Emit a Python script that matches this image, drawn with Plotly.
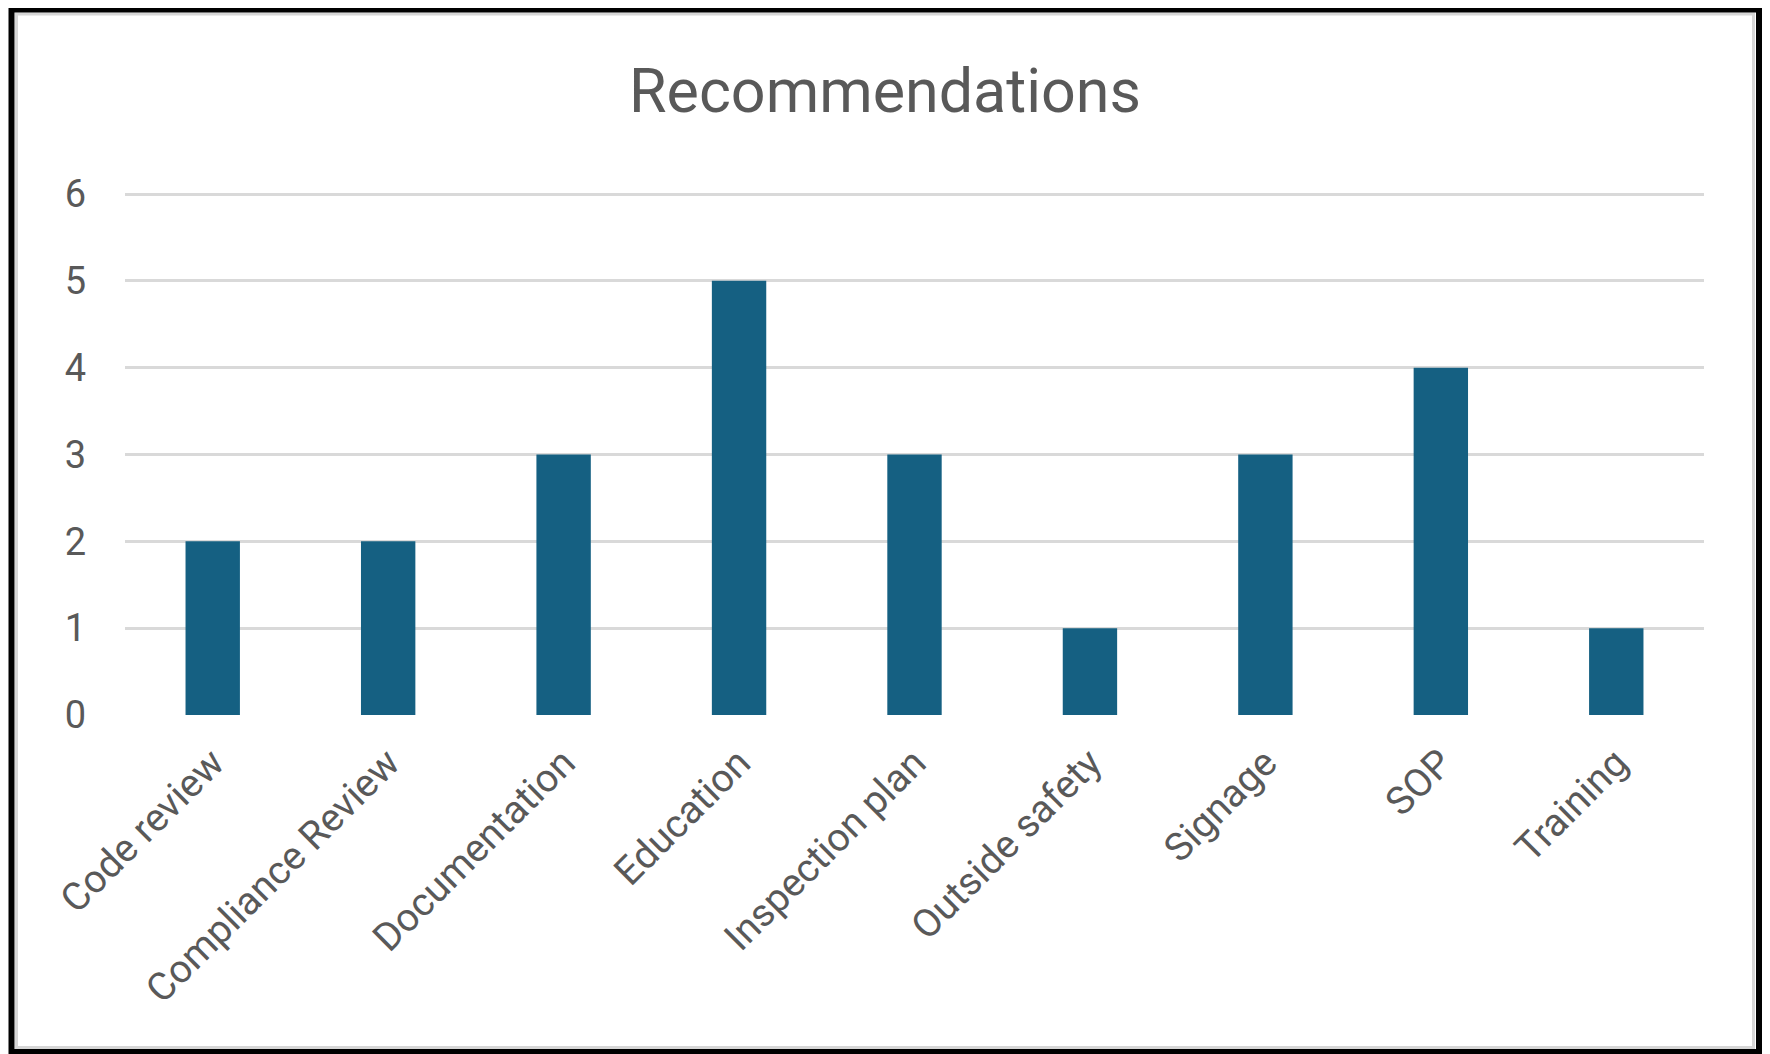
import plotly.graph_objects as go

categories = ["Code review", "Compliance Review", "Documentation", "Education",
              "Inspection plan", "Outside safety", "Signage", "SOP", "Training"]
counts = [2, 2, 3, 5, 3, 1, 3, 4, 1]
y_ticks = [0, 1, 2, 3, 4, 5, 6]

# the page body adds an 8px offset, so positions below are in figure pixels
OFF = 8
W, H = 1770, 1054
L, R, T, B = 125 - OFF, 66 + OFF, 193 - OFF, 339 + OFF
PW, PH = W - L - R, H - T - B


def px(x):
    return (x - OFF - L) / PW


def py(y):
    return (H - B - (y - OFF)) / PH


fig = go.Figure(go.Bar(
    x=categories, y=counts,
    marker=dict(color="#156082", line=dict(width=0)),
    width=0.31,
))

shapes = [
    dict(type="rect", xref="paper", yref="paper",
         x0=px(16.5), x1=px(1753.5), y0=py(14), y1=py(1047.5),
         line=dict(color="#D6D6D6", width=3), fillcolor="rgba(0,0,0,0)", layer="above"),
    dict(type="rect", xref="paper", yref="paper",
         x0=px(11.5), x1=px(1759), y0=py(9.5), y1=py(1052),
         line=dict(color="#000000", width=6), fillcolor="rgba(0,0,0,0)", layer="above"),
]

fig.update_layout(
    width=W, height=H,
    margin=dict(l=L, r=R, t=T, b=B, pad=0),
    paper_bgcolor="white", plot_bgcolor="white",
    font=dict(family="Roboto", color="#595959"),
    title=dict(text="Recommendations", x=(885 - OFF) / W, xanchor="center",
               y=1 - (91 - OFF) / H, yanchor="middle",
               font=dict(family="Roboto", size=61, color="#595959")),
    showlegend=False,
    shapes=shapes,
    xaxis=dict(tickangle=-45, tickfont=dict(size=39, color="#595959"),
               showgrid=False, showline=False, ticks="", zeroline=False,
               ticklabelstandoff=16),
    yaxis=dict(range=[0, 6.012], tickvals=y_ticks, tickfont=dict(size=38, color="#595959"),
               showgrid=True, gridcolor="#D9D9D9", gridwidth=2.5,
               zeroline=False, showline=False, ticks="", ticklabelstandoff=38),
)

fig.write_html("out.html")
